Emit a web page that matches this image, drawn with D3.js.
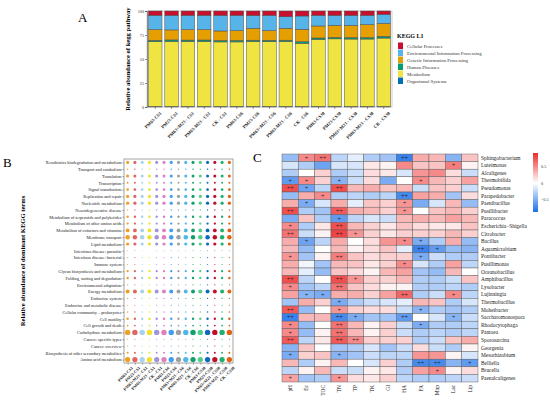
<!DOCTYPE html>
<html>
<head>
<meta charset="utf-8">
<script src="https://cdn.jsdelivr.net/npm/d3@7"></script>
<style>
body { margin: 0; background: #fff; }
text { font-family: "Liberation Serif", "Times New Roman", serif; }
</style>
</head>
<body>
<svg id="fig" width="550" height="402"></svg>
<script>
// ---- shared sample names (panels A and B) ----
var samples = ["PM63-CS1", "PM23-CS1", "PM63+M23 - CS1", "PM63-M23 - CS1", "CK - CS1",
	"PM63-CS6", "PM23-CS6", "PM63+M23 - CS6", "PM63-M23 - CS6", "CK - CS6",
	"PM63-CS30", "PM23-CS30", "PM63+M23 - CS30", "PM63-M23 - CS30", "CK - CS30"];

// ---- panel A: KEGG level 1, stacked bottom to top ----
var keggL1 = ["Cellular Processes", "Environmental Information Processing", "Genetic Information Processing",
	"Human Diseases", "Metabolism", "Organismal Systems"];
var keggColors = ["#c8102e", "#56b4e9", "#e69f00", "#009e73", "#f0e442", "#0072b2"];
var organismal = [0.6, 0.6, 0.6, 0.6, 0.6, 0.6, 0.6, 0.6, 0.6, 0.6, 0.6, 0.6, 0.6, 0.6, 0.6];
var metabolism = [67.4, 67.8, 67.6, 67.8, 67.2, 67.2, 67.6, 67.4, 67.6, 65.8, 69.8, 70.4, 70.2, 70.2, 71.2];
var human = [1.5, 1.5, 1.5, 1.4, 1.5, 1.5, 1.4, 1.5, 1.4, 1.6, 1.5, 1.5, 1.5, 1.5, 1.8];
var genetic = [11.1, 10.4, 10.9, 10.8, 9.9, 10.3, 12.4, 10.1, 12.4, 13.0, 12.5, 12.5, 12.7, 13.5, 13.4];
var environmental = [14.9, 15.2, 14.9, 14.9, 16.3, 15.9, 13.3, 15.9, 12.0, 13.8, 11.1, 10.5, 10.5, 9.7, 9.5];
var cellular = [4.5, 4.5, 4.5, 4.5, 4.5, 4.5, 4.7, 4.5, 6.0, 5.2, 4.5, 4.5, 4.5, 4.5, 3.5];
var yTicksA = [0, 25, 50, 75, 100];

// ---- panel B: dominant KEGG level 2 terms ----
var pathways = ["Xenobiotics biodegradation and metabolism", "Transport and catabolism", "Translation",
	"Transcription", "Signal transduction", "Replication and repair", "Nucleotide metabolism",
	"Neurodegenerative disease", "Metabolism of terpenoids and polyketides", "Metabolism of other amino acids",
	"Metabolism of cofactors and vitamins", "Membrane transport", "Lipid metabolism",
	"Infectious disease: parasitic", "Infectious disease: bacterial", "Immune system",
	"Glycan biosynthesis and metabolism", "Folding, sorting and degradation", "Environmental adaptation",
	"Energy metabolism", "Endocrine system", "Endocrine and metabolic disease",
	"Cellular community \u2013 prokaryotes", "Cell motility", "Cell growth and death",
	"Carbohydrate metabolism", "Cancer: specific types", "Cancer: overview",
	"Biosynthesis of other secondary metabolites", "Amino acid metabolism"];
var abundance = [3.6, 0.8, 3.4, 1.4, 2.6, 3.8, 4.0, 0.6, 2.2, 2.0,
	5.4, 7.5, 3.8, 0.3, 0.5, 0.4, 2.0, 2.1, 0.5, 6.0,
	0.6, 0.4, 0.8, 2.2, 1.1, 11.0, 0.4, 0.5, 1.5, 10.5];
var sampleColors = ["#f0a020", "#e06464", "#a6d2f0", "#f2e22a", "#a395d2", "#e07fc0", "#3e9ff0", "#a0a0a0",
	"#4fb6e8", "#14a06e", "#52cf8e", "#1068c0", "#c0102e", "#1fb070", "#e2600e"];

// ---- panel C: genus vs environmental factor correlation ----
var genera = ["Sphingobacterium", "Luteimonas", "Alcaligenes", "Thermobifida", "Pseudomonas", "Parapedobacter",
	"Paenibacillus", "Pusillibacter", "Paracoccus", "Escherichia\u2212Shigella", "Citrobacter", "Bacillus",
	"Aquamicrobium", "Pontibacter", "Pusillimonas", "Oceanobacillus", "Amphibacillus", "Lysobacter",
	"Lujinxingia", "Thermobacillus", "Moheibacter", "Saccharomonospora", "Rhodocytophaga", "Pantoea",
	"Sporosarcina", "Georgenia", "Mesorhizobium", "Belliella", "Brucella", "Paenalcaligenes"];
var factors = ["pH", "Ec", "TOC", "TN", "TP", "TK", "GI", "HA", "FA", "Mnp", "Lac", "Lip"];
var corr = [
	[-0.4, 0.5, 0.6, -0.25, -0.1, -0.3, -0.35, -0.75, 0.35, 0.3, -0.45, 0.25],
	[-0.15, -0.3, -0.55, -0.15, -0.15, 0.1, 0.05, 0.5, 0.25, 0.25, 0.55, 0.05],
	[-0.3, 0.0, 0.2, -0.3, -0.2, 0.15, 0.1, -0.15, 0.45, 0.5, 0.15, -0.2],
	[-0.6, 0.5, 0.2, -0.45, -0.2, 0.15, -0.5, 0.0, 0.5, 0.3, 0.2, 0.4],
	[0.75, -0.55, -0.25, 0.75, 0.3, 0.35, 0.25, 0.3, -0.2, 0.25, 0.2, -0.2],
	[-0.4, 0.35, 0.5, -0.3, -0.25, -0.3, -0.25, -0.7, 0.4, 0.35, -0.35, 0.15],
	[0.35, -0.5, -0.15, 0.35, -0.1, 0.25, 0.2, 0.45, -0.5, -0.15, 0.3, -0.4],
	[0.75, -0.3, -0.35, 0.7, 0.35, 0.3, 0.2, 0.45, 0.0, 0.25, 0.3, 0.2],
	[-0.5, 0.25, -0.3, -0.6, -0.25, -0.15, -0.2, 0.3, 0.35, 0.3, 0.4, 0.3],
	[0.5, -0.3, 0.1, 0.75, 0.3, 0.2, 0.1, 0.25, 0.15, 0.1, 0.1, 0.25],
	[0.6, -0.2, 0.05, 0.8, 0.45, 0.2, 0.1, 0.2, 0.2, 0.2, 0.3, 0.2],
	[0.35, -0.55, -0.25, 0.35, 0.0, 0.15, 0.45, 0.5, -0.5, -0.3, 0.35, -0.4],
	[0.3, -0.4, 0.0, 0.3, 0.05, 0.15, 0.25, -0.1, -0.75, -0.6, -0.4, -0.45],
	[0.45, -0.35, 0.05, 0.55, 0.25, 0.15, 0.2, 0.2, -0.5, -0.2, -0.3, -0.3],
	[0.35, -0.05, -0.35, 0.3, 0.25, 0.1, 0.2, 0.5, -0.15, -0.3, 0.4, -0.25],
	[0.3, -0.1, -0.4, 0.25, 0.15, 0.05, 0.3, 0.4, -0.35, -0.4, 0.3, 0.0],
	[0.75, -0.25, 0.0, 0.75, 0.45, 0.2, 0.2, 0.3, -0.3, -0.3, -0.2, 0.25],
	[0.5, -0.35, -0.25, 0.6, 0.25, 0.15, 0.05, 0.05, -0.3, -0.3, -0.25, -0.3],
	[0.4, -0.45, -0.5, 0.35, 0.35, 0.2, 0.4, 0.65, -0.3, -0.2, 0.5, -0.25],
	[-0.35, 0.35, 0.2, -0.5, -0.3, -0.2, -0.15, -0.1, 0.3, 0.25, -0.3, -0.15],
	[0.7, -0.4, 0.0, 0.45, 0.2, 0.15, 0.15, -0.2, -0.45, -0.3, -0.35, -0.3],
	[-0.75, 0.3, 0.3, -0.7, -0.5, -0.35, -0.35, -0.6, 0.0, -0.15, -0.45, -0.2],
	[0.5, -0.4, 0.0, 0.6, 0.3, 0.05, 0.2, -0.2, -0.5, -0.3, -0.3, -0.25],
	[0.5, -0.4, 0.05, 0.6, 0.3, 0.05, 0.2, -0.2, -0.3, -0.25, -0.3, -0.25],
	[0.7, -0.25, 0.1, 0.7, 0.5, 0.2, 0.2, 0.2, -0.3, -0.2, 0.25, 0.35],
	[-0.45, 0.25, 0.0, -0.35, -0.3, -0.15, -0.35, -0.2, 0.15, -0.2, -0.3, 0.05],
	[-0.5, 0.2, 0.25, -0.45, -0.35, -0.2, -0.25, -0.25, 0.45, 0.45, 0.05, -0.15],
	[0.3, -0.3, 0.05, 0.3, 0.0, -0.15, 0.2, -0.3, -0.7, -0.7, -0.45, -0.6],
	[-0.25, 0.05, 0.3, -0.2, -0.2, 0.05, 0.1, -0.3, 0.4, 0.5, 0.05, 0.15],
	[0.4, -0.35, -0.3, 0.45, 0.15, 0.1, 0.2, -0.25, -0.3, -0.3, -0.25, -0.2]
];
// 1 = "+", 2 = "++"
var signif = ["012000020000", "000000000010", "000000000000", "110100001000", "210200000000",
	"001000020000", "010000010000", "200200010000", "000100000000", "100200000000",
	"200210000000", "010000011000", "000000002100", "100200001000", "000000010000",
	"000000000000", "200210000000", "100200000000", "011000020010", "000100000000",
	"200100001000", "200210020010", "100200001000", "100200000000", "200220000000",
	"000000000000", "100100000000", "000000002201", "000000000100", "100100000000"];
var legendTicksC = [0.5, 0, -0.5];

var svg = d3.select("#fig");
svg.append("rect").attr("width", 550).attr("height", 402).attr("fill", "#fff");

function drawPanelA()
{
	var g = svg.append("g");
	var x = d3.scaleBand().domain(samples).range([147, 392]).paddingInner(0.17).paddingOuter(0.09);
	var y = d3.scaleLinear().domain([0, 100]).range([107, 11]);

	var rows = samples.map(function(s, i) {
		return {
			sample: s,
			"Organismal Systems": organismal[i],
			"Metabolism": metabolism[i],
			"Human Diseases": human[i],
			"Genetic Information Processing": genetic[i],
			"Environmental Information Processing": environmental[i],
			"Cellular Processes": cellular[i]
		};
	});
	var order = keggL1.slice().reverse();
	var color = d3.scaleOrdinal().domain(keggL1).range(keggColors);
	var stack = d3.stack().keys(order)(rows);

	g.append("rect").attr("x", 147).attr("y", 11).attr("width", 245).attr("height", 96)
		.attr("fill", "none").attr("stroke", "#aaa").attr("stroke-width", 0.6);

	g.selectAll("g.layer").data(stack).enter().append("g")
		.attr("fill", function(d) { return color(d.key); })
		.selectAll("rect").data(function(d) { return d; }).enter().append("rect")
		.attr("x", function(d) { return x(d.data.sample); })
		.attr("width", x.bandwidth())
		.attr("y", function(d) { return y(Math.min(d[1], 100)); })
		.attr("height", function(d) { return y(d[0]) - y(Math.min(d[1], 100)); })
		.attr("stroke", "#4d4d4d").attr("stroke-width", 0.5);

	var ya = g.append("g").attr("transform", "translate(147,0)")
		.call(d3.axisLeft(y).tickValues(yTicksA).tickSize(2).tickPadding(1));
	ya.selectAll("text").attr("font-size", 4.2).attr("fill", "#333");
	ya.selectAll("line, path").attr("stroke", "#333").attr("stroke-width", 0.5);

	var xa = g.append("g").attr("transform", "translate(0,107)")
		.call(d3.axisBottom(x).tickSize(2).tickSizeOuter(0));
	xa.select("path").remove();
	xa.selectAll("line").attr("stroke", "#333").attr("stroke-width", 0.5);
	xa.selectAll("text").attr("font-size", 4.6).attr("font-weight", "bold").attr("fill", "#222")
		.attr("text-anchor", "end").attr("dy", 0)
		.attr("transform", "translate(3,3) rotate(-45)");

	g.append("text").attr("transform", "translate(130,59) rotate(-90)")
		.attr("text-anchor", "middle").attr("font-size", 6.6).attr("font-weight", "bold")
		.text("Relative abundance of kegg pathway");
	g.append("text").attr("x", 78).attr("y", 22).attr("font-size", 13).text("A");

	// legend
	g.append("text").attr("x", 397).attr("y", 38).attr("font-size", 6).attr("font-weight", "bold").text("KEGG L1");
	var items = g.selectAll("g.leg").data(keggL1).enter().append("g")
		.attr("transform", function(d, i) { return "translate(398," + (42.5 + i * 7) + ")"; });
	items.append("rect").attr("width", 5).attr("height", 6.5).attr("fill", function(d) { return color(d); });
	items.append("text").attr("x", 9).attr("y", 5).attr("font-size", 4.8).attr("fill", "#333").text(function(d) { return d; });
}

function drawPanelB()
{
	var g = svg.append("g");
	var x = d3.scalePoint().domain(samples).range([124, 233]).padding(0.5);
	var y = d3.scalePoint().domain(pathways).range([159, 363]).padding(0.5);
	var r = d3.scaleSqrt().domain([0, 11]).range([0, 2.7]);

	g.append("rect").attr("x", 124).attr("y", 159).attr("width", 109).attr("height", 204)
		.attr("fill", "none").attr("stroke", "#9a9a9a").attr("stroke-width", 0.9);

	var cells = [];
	pathways.forEach(function(p, i) {
		samples.forEach(function(s, j) {
			cells.push({ p: p, s: s, v: abundance[i], c: sampleColors[j] });
		});
	});
	g.selectAll("circle").data(cells).enter().append("circle")
		.attr("cx", function(d) { return x(d.s); })
		.attr("cy", function(d) { return y(d.p); })
		.attr("r", function(d) { return r(d.v); })
		.attr("fill", function(d) { return d.c; });

	var ya = g.append("g").attr("transform", "translate(124,0)")
		.call(d3.axisLeft(y).tickSize(1.5).tickPadding(1));
	ya.select("path").remove();
	ya.selectAll("line").attr("stroke", "#444").attr("stroke-width", 0.5);
	ya.selectAll("text").attr("font-size", 4.3).attr("fill", "#222");

	var xa = g.append("g").attr("transform", "translate(0,363)")
		.call(d3.axisBottom(x).tickSize(1.5));
	xa.select("path").remove();
	xa.selectAll("line").attr("stroke", "#444").attr("stroke-width", 0.5);
	xa.selectAll("text").attr("font-size", 4.2).attr("font-weight", "bold").attr("fill", "#222")
		.attr("text-anchor", "end").attr("dy", 0)
		.attr("transform", "translate(2,2) rotate(-45)");

	g.append("text").attr("transform", "translate(25,261) rotate(-90)")
		.attr("text-anchor", "middle").attr("font-size", 6.6).attr("font-weight", "bold")
		.text("Relative abundance of dominant KEGG terms");
	g.append("text").attr("x", 3).attr("y", 167).attr("font-size", 13).text("B");
}

function drawPanelC()
{
	var g = svg.append("g");
	var x = d3.scaleBand().domain(factors).range([282, 478]);
	var y = d3.scaleBand().domain(genera).range([154, 382]);
	var color = d3.scaleLinear().domain([-0.86, 0, 0.9]).range(["#1c6fea", "#ffffff", "#ee2b2b"]);

	var cells = [];
	genera.forEach(function(gn, i) {
		factors.forEach(function(f, j) {
			cells.push({ g: gn, f: f, v: corr[i][j], s: +signif[i][j] });
		});
	});
	g.selectAll("rect.cell").data(cells).enter().append("rect")
		.attr("x", function(d) { return x(d.f); })
		.attr("y", function(d) { return y(d.g); })
		.attr("width", x.bandwidth()).attr("height", y.bandwidth())
		.attr("fill", function(d) { return color(d.v); })
		.attr("stroke", "#5c5c5c").attr("stroke-width", 0.45);

	g.selectAll("text.sig").data(cells.filter(function(d) { return d.s > 0; })).enter().append("text")
		.attr("x", function(d) { return x(d.f) + x.bandwidth() / 2; })
		.attr("y", function(d) { return y(d.g) + y.bandwidth() / 2 + 2; })
		.attr("text-anchor", "middle").attr("font-size", 6.2).attr("fill", "#222")
		.text(function(d) { return d.s === 2 ? "++" : "+"; });

	g.selectAll("text.row").data(genera).enter().append("text")
		.attr("x", 481).attr("y", function(d) { return y(d) + y.bandwidth() / 2 + 1.8; })
		.attr("font-size", 5.4).attr("fill", "#222").text(function(d) { return d; });

	g.selectAll("text.col").data(factors).enter().append("text")
		.attr("transform", function(d) { return "translate(" + (x(d) + x.bandwidth() / 2 + 1.8) + ",385) rotate(-90)"; })
		.attr("text-anchor", "end").attr("font-size", 5.4).attr("fill", "#222").text(function(d) { return d; });

	// colour key
	var cy = d3.scaleLinear().domain([-0.86, 0.9]).range([212, 153]);
	var grad = svg.append("defs").append("linearGradient").attr("id", "cgrad")
		.attr("x1", 0).attr("y1", 1).attr("x2", 0).attr("y2", 0);
	[-0.86, 0, 0.9].forEach(function(v) {
		grad.append("stop").attr("offset", (v + 0.86) / 1.76).attr("stop-color", color(v));
	});
	g.append("rect").attr("x", 533).attr("y", 153).attr("width", 5).attr("height", 59).attr("fill", "url(#cgrad)");
	g.selectAll("text.key").data(legendTicksC).enter().append("text")
		.attr("x", 541).attr("y", function(d) { return cy(d) + 1.5; })
		.attr("font-size", 4.2).attr("fill", "#333")
		.text(function(d) { return d < 0 ? "\u22120.5" : d; });

	g.append("text").attr("x", 253).attr("y", 162).attr("font-size", 13).text("C");
}

drawPanelA();
drawPanelB();
drawPanelC();
</script>
</body>
</html>
